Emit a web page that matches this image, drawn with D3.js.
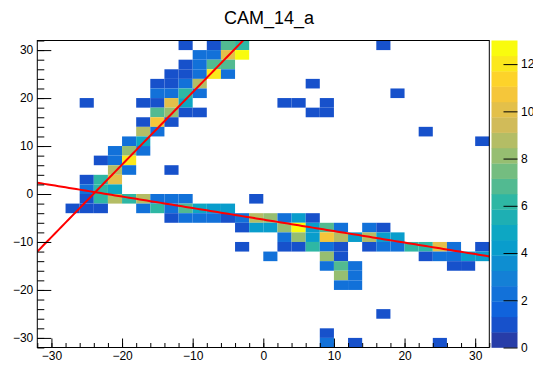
<!DOCTYPE html>
<html>
<head>
<meta charset="utf-8">
<script src="https://cdn.jsdelivr.net/npm/d3@7/dist/d3.min.js"></script>
<style>
  body { margin: 0; background: #fff; }
  text { font-family: "Liberation Sans", Arial, Helvetica, sans-serif; }
</style>
</head>
<body>
<div id="main"></div>
<script>
/* Size */
const width = 533, height = 368;

/* Data */
const title = "CAM_14_a";
const xTicks = [-30, -20, -10, 0, 10, 20, 30];
const yTicks = [-30, -20, -10, 0, 10, 20, 30];
const zTicks = [0, 2, 4, 6, 8, 10, 12];
const zMax = 13, nLevels = 20, binW = 2;

// filled bins: lower-left corner (x, y) and bin content
const cellX = [
  -12, -8, -6, -4, 16,
  -10, -8, -6, -4,
  -12, -10, -8, -6,
  -14, -12, -10, -8, -6,
  -16, -14, -12, -10, 6,
  -16, -14, -12, -10, 18,
  -26, -18, -16, -14, -12, 2, 4, 8,
  -16, -14, -12, -10, 6, 8,
  -18, -16, -14,
  -18, -16, 22,
  -20, -18, 30,
  -22, -20, -18,
  -24, -22, -20,
  -22, -20, -14,
  -26, -24, -22,
  -26, -24, -22,
  -26, -24, -22, -20, -18, -16, -14, -12, -2,
  -28, -26, -24, -18, -16, -14, -12, -10, -8, -6,
  -14, -12, -10, -8, -6, -4, -2, 0, 2, 4, 6,
  -4, -2, 0, 2, 4, 6, 8, 10, 14, 16,
  2, 4, 6, 8, 10, 12, 14, 16, 18,
  -4, 2, 4, 6, 8, 10, 14, 16, 18, 20, 22, 24, 26, 30,
  0, 8, 10, 22, 24, 26, 28, 30,
  8, 10, 12, 26, 28,
  10, 12,
  10, 12,
  16,
  8,
  8, 12, 24
];
const cellY = [
  30, 30, 30, 30, 30,
  28, 28, 28, 28,
  26, 26, 26, 26,
  24, 24, 24, 24, 24,
  22, 22, 22, 22, 22,
  20, 20, 20, 20, 20,
  18, 18, 18, 18, 18, 18, 18, 18,
  16, 16, 16, 16, 16, 16,
  14, 14, 14,
  12, 12, 12,
  10, 10, 10,
  8, 8, 8,
  6, 6, 6,
  4, 4, 4,
  2, 2, 2,
  0, 0, 0,
  -2, -2, -2, -2, -2, -2, -2, -2, -2,
  -4, -4, -4, -4, -4, -4, -4, -4, -4, -4,
  -6, -6, -6, -6, -6, -6, -6, -6, -6, -6, -6,
  -8, -8, -8, -8, -8, -8, -8, -8, -8, -8,
  -10, -10, -10, -10, -10, -10, -10, -10, -10,
  -12, -12, -12, -12, -12, -12, -12, -12, -12, -12, -12, -12, -12, -12,
  -14, -14, -14, -14, -14, -14, -14, -14,
  -16, -16, -16, -16, -16,
  -18, -18,
  -20, -20,
  -26,
  -30,
  -32, -32, -32
];
const cellN = [
  1, 1, 7, 6, 1,
  2, 2, 10, 13,
  1, 2, 7, 7,
  1, 1, 2, 12, 2,
  1, 1, 2, 9, 1,
  2, 2, 6, 2, 1,
  1, 1, 1, 10, 5, 1, 1, 1,
  7, 8, 1, 1, 1, 1,
  1, 11, 1,
  9, 2, 1,
  2, 5, 1,
  2, 8, 2,
  1, 2, 12,
  9, 2, 1,
  1, 6, 10,
  2, 6, 5,
  1, 6, 9, 6, 9, 2, 2, 2, 1,
  1, 1, 1, 2, 6, 2, 7, 5, 4, 4,
  1, 2, 2, 2, 1, 2, 9, 8, 2, 4, 1,
  1, 4, 4, 8, 13, 4, 7, 2, 2, 1,
  2, 8, 4, 11, 9, 4, 9, 4, 4,
  1, 1, 1, 6, 2, 1, 1, 2, 2, 6, 6, 10, 2, 1,
  2, 8, 1, 1, 2, 2, 4, 4,
  2, 7, 2, 1, 1,
  8, 2,
  2, 2,
  1,
  1,
  2, 1, 1
];

// two straight-line fits y = a + b*x
const fitIntercept = [36.32, -5.33];
const fitSlope = [1.51, -0.24];

/* Palette (kBird) */
const birdStops = [0, 0.125, 0.25, 0.375, 0.5, 0.625, 0.75, 0.875, 1];
const birdR = [0.2082, 0.0592, 0.0780, 0.0232, 0.1802, 0.5301, 0.8186, 0.9956, 0.9764];
const birdG = [0.1664, 0.3599, 0.5041, 0.6419, 0.7178, 0.7492, 0.7328, 0.7862, 0.9832];
const birdB = [0.5293, 0.8684, 0.8385, 0.7914, 0.6425, 0.4662, 0.3499, 0.1968, 0.0539];
const bird = d3.scaleLinear()
  .domain(birdStops)
  .range(birdStops.map((s, i) => d3.rgb(birdR[i] * 255, birdG[i] * 255, birdB[i] * 255)));
const levelColor = i => bird(Math.floor((i + 0.99) * 255 / nLevels) / 254);
const valueColor = v => levelColor(Math.min(nLevels - 1, Math.floor(0.01 + v * nLevels / zMax)));

/* Layout */
const frame = {left: 37.3, right: 489.3, top: 40.5, bottom: 347.5};
const bar = {left: 491.5, right: 517.5};

const x = d3.scaleLinear().domain([-32, 32]).range([frame.left, frame.right]);
const y = d3.scaleLinear().domain([-32, 32]).range([frame.bottom, frame.top]);
const z = d3.scaleLinear().domain([0, zMax]).range([frame.bottom, frame.top]);

const svg = d3.select("#main").append("svg")
  .attr("width", width).attr("height", height);

/* Title */
svg.append("text")
  .attr("x", 269).attr("y", 23.5)
  .attr("text-anchor", "middle")
  .style("font-size", "18px")
  .text(title);

/* Cells */
const cells = d3.range(cellN.length).map(i => ({x: cellX[i], y: cellY[i], n: cellN[i]}));
svg.append("g").selectAll("rect")
  .data(cells)
  .enter().append("rect")
  .attr("x", d => x(d.x))
  .attr("y", d => y(d.y + binW))
  .attr("width", d => x(d.x + binW) - x(d.x))
  .attr("height", d => y(d.y) - y(d.y + binW))
  .attr("fill", d => valueColor(d.n));

/* Fit lines, clipped to the frame */
svg.append("clipPath").attr("id", "fr")
  .append("rect")
  .attr("x", frame.left).attr("y", frame.top)
  .attr("width", frame.right - frame.left).attr("height", frame.bottom - frame.top);

const xs = d3.range(-32, 32.01, 0.5);
const line = d3.line().x(d => x(d[0])).y(d => y(d[1]));
svg.append("g").attr("clip-path", "url(#fr)")
  .selectAll("path")
  .data(fitSlope.map((b, i) => xs.map(v => [v, fitIntercept[i] + b * v])))
  .enter().append("path")
  .attr("d", line)
  .attr("fill", "none")
  .attr("stroke", "#ff0000")
  .attr("stroke-width", 2);

/* Frame */
svg.append("rect")
  .attr("x", frame.left).attr("y", frame.top)
  .attr("width", frame.right - frame.left).attr("height", frame.bottom - frame.top)
  .attr("fill", "none").attr("stroke", "#000").attr("stroke-width", 1);

/* Axes */
const minor = d3.range(-32, 33, binW);

const xMinor = svg.append("g").attr("transform", `translate(0,${frame.bottom})`)
  .call(d3.axisBottom(x).tickValues(minor).tickSizeInner(-4.5).tickSizeOuter(0).tickFormat(""));
const xMajor = svg.append("g").attr("transform", `translate(0,${frame.bottom})`)
  .call(d3.axisBottom(x).tickValues(xTicks).tickSizeInner(-9).tickSizeOuter(0).tickPadding(4));

const yMinor = svg.append("g").attr("transform", `translate(${frame.left},0)`)
  .call(d3.axisLeft(y).tickValues(minor).tickSizeInner(-7).tickSizeOuter(0).tickFormat(""));
const yMajor = svg.append("g").attr("transform", `translate(${frame.left},0)`)
  .call(d3.axisLeft(y).tickValues(yTicks).tickSizeInner(-14).tickSizeOuter(0).tickPadding(4));

/* Colour bar */
const levels = d3.range(nLevels);
svg.append("g").selectAll("rect")
  .data(levels)
  .enter().append("rect")
  .attr("x", bar.left)
  .attr("width", bar.right - bar.left)
  .attr("y", i => z((i + 1) * zMax / nLevels))
  .attr("height", i => z(i * zMax / nLevels) - z((i + 1) * zMax / nLevels) + 0.3)
  .attr("fill", i => levelColor(i));

const zAxis = svg.append("g").attr("transform", `translate(${bar.right},0)`)
  .call(d3.axisRight(z).tickValues(zTicks).tickSizeInner(-14).tickSizeOuter(0).tickPadding(3.5));

[xMinor, xMajor, yMinor, yMajor, zAxis].forEach(g => {
  g.select(".domain").remove();
  g.selectAll("line").attr("stroke", "#000");
  g.selectAll("text")
    .attr("fill", "#000")
    .style("font-size", "12px")
    .style("font-family", '"Liberation Sans", Arial, Helvetica, sans-serif');
});
</script>
</body>
</html>
